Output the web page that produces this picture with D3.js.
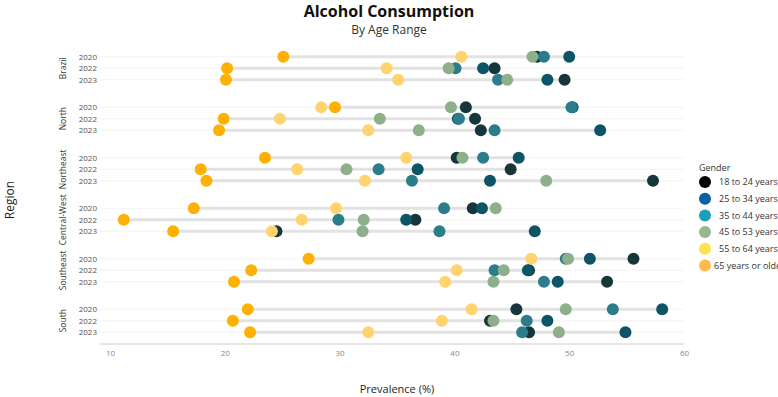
<!DOCTYPE html>
<html><head><meta charset="utf-8">
<script src="https://cdn.jsdelivr.net/npm/d3@7"></script>
<style>
html,body{margin:0;padding:0;background:#fff;overflow:hidden;}
text{font-family:"Open Sans",sans-serif;}
</style></head>
<body><svg id="c" width="778" height="397"></svg>
<script>
const regions = ["Brazil","North","Northeast","Central-West","Southeast","South"];
const years = ["2020","2022","2023"];
const ageGroups = ["18 to 24 years","25 to 34 years","35 to 44 years","45 to 53 years","55 to 64 years","65 years or older"];
// values listed region by region, years 2020, 2022, 2023
const age18_24 = [47.2,43.5,49.6, 41.0,41.8,42.3, 40.2,44.9,57.3, 41.6,36.6,24.5, 55.6,46.5,53.3, 45.4,43.1,46.5];
const age25_34 = [50.0,42.5,48.1, 50.3,40.3,52.7, 45.6,36.8,43.1, 42.4,35.8,47.0, 51.8,46.4,49.0, 58.1,48.1,54.9];
const age35_44 = [47.8,40.1,43.8, 50.2,40.4,43.5, 42.5,33.4,36.3, 39.1,29.9,38.7, 49.7,43.5,47.8, 53.8,46.3,45.9];
const age45_53 = [46.8,39.5,44.6, 39.7,33.5,36.9, 40.7,30.6,48.0, 43.6,32.1,32.0, 49.9,44.3,43.4, 49.7,43.4,49.1];
const age55_64 = [40.6,34.1,35.1, 28.4,24.8,32.5, 35.8,26.3,32.2, 29.7,26.7,24.1, 46.7,40.2,39.2, 41.5,38.9,32.5];
const age65plus = [25.1,20.2,20.1, 29.6,19.9,19.5, 23.5,17.9,18.4, 17.3,11.2,15.5, 27.3,22.3,20.8, 22.0,20.7,22.2];
const xTicks = [10,20,30,40,50,60];
const dotColors = ["#17363b","#0b5566","#2b7d8b","#8daf8a","#ffd36e","#ffb000"];
const legendColors = ["#000000","#0a5fa0","#1aa0b8","#96b88f","#ffe050","#ffba4d"];

const series = [age18_24,age25_34,age35_44,age45_53,age55_64,age65plus];
const rows = [];
regions.forEach((r,ri)=>years.forEach((y,yi)=>{
  const idx = ri*3+yi;
  rows.push({region:r, year:y, vals: series.map(s=>s[idx])});
}));

const svg = d3.select("#c");
const x = d3.scaleLinear().domain([10,60]).range([110,684]);
const g = d3.scaleBand().domain(regions).range([43,346]);
const yy = d3.scalePoint().domain(years).range([-11.5,11.5]);
const rowY = d => g(d.region) + g.bandwidth()/2 + yy(d.year);

// title
svg.append("text").attr("x",389).attr("y",17).attr("text-anchor","middle")
  .attr("font-size",16).attr("font-weight",700).attr("fill","#111").text("Alcohol Consumption");
svg.append("text").attr("x",389).attr("y",34).attr("text-anchor","middle")
  .attr("font-size",12).attr("fill","#333").text("By Age Range");

// row gridlines
svg.append("g").selectAll("line").data(rows).join("line")
  .attr("x1",100).attr("x2",684).attr("y1",rowY).attr("y2",rowY)
  .attr("stroke","#f3f3f3").attr("stroke-width",1);

// dumbbell lines
svg.append("g").selectAll("line").data(rows).join("line")
  .attr("x1",d=>x(d3.min(d.vals))).attr("x2",d=>x(d3.max(d.vals)))
  .attr("y1",rowY).attr("y2",rowY)
  .attr("stroke","#e2e2e2").attr("stroke-width",3);

// dots
series.forEach((s,si)=>{
  svg.append("g").selectAll("circle").data(rows).join("circle")
    .attr("cx",d=>x(d.vals[si])).attr("cy",rowY).attr("r",6)
    .attr("fill",dotColors[si]);
});

// x axis
const xa = svg.append("g").attr("transform","translate(0,344)")
  .call(d3.axisBottom(x).tickValues(xTicks).tickSize(0).tickPadding(6));
xa.select(".domain").attr("stroke","#e6e6e6").attr("stroke-width",2).attr("d","M100,0H684");
xa.selectAll("text").attr("font-size",8).attr("fill","#888").attr("font-family","'Open Sans',sans-serif");

// year labels
svg.append("g").selectAll("text").data(rows).join("text")
  .attr("x",97).attr("y",rowY).attr("dy","0.35em").attr("text-anchor","end")
  .attr("font-size",8).attr("fill","#555").text(d=>d.year);

// region labels
svg.append("g").selectAll("text").data(regions).join("text")
  .attr("transform",d=>`translate(66,${g(d)+g.bandwidth()/2}) rotate(-90)`)
  .attr("text-anchor","middle").attr("font-size",8.5).attr("fill","#333").text(d=>d);

// axis titles
svg.append("text").attr("transform","translate(14,200) rotate(-90)").attr("text-anchor","middle")
  .attr("font-size",12).attr("fill","#222").text("Region");
svg.append("text").attr("x",397).attr("y",393).attr("text-anchor","middle")
  .attr("font-size",11).attr("fill","#222").text("Prevalence (%)");

// legend
const lg = svg.append("g");
lg.append("text").attr("x",699).attr("y",171).attr("font-size",9).attr("fill","#333").text("Gender");
const li = lg.selectAll("g").data(ageGroups).join("g")
  .attr("transform",(d,i)=>`translate(0,${182+i*16.7})`);
li.append("circle").attr("cx",705).attr("cy",0).attr("r",6).attr("fill",(d,i)=>legendColors[i]);
li.append("text").attr("x",d=>d==="65 years or older"?714:719).attr("y",0).attr("dy","0.35em")
  .attr("font-size",9).attr("fill","#333").text(d=>d);
</script></body></html>
